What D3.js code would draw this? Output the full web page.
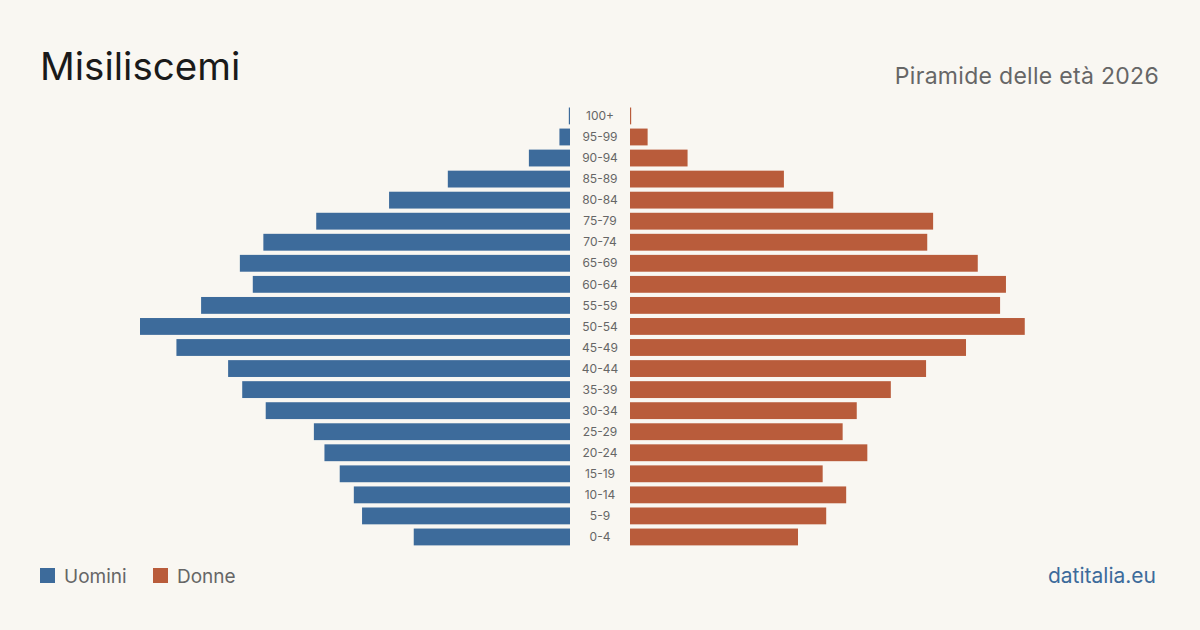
<!DOCTYPE html>
<html lang="it">
<head>
<meta charset="UTF-8">
<script src="https://d3js.org/d3.v7.min.js"></script>
<title>Misiliscemi</title>
<style>
  body { margin: 0; background: #f9f7f2; }
  svg { display: block; font-family: Inter, "Noto Sans", sans-serif; }
</style>
</head>
<body>
<script>
  var ageGroups = ["0-4","5-9","10-14","15-19","20-24","25-29","30-34","35-39","40-44","45-49",
    "50-54","55-59","60-64","65-69","70-74","75-79","80-84","85-89","90-94","95-99","100+"];
  var men = [133,177,184,196,209,218,259,279,291,335,366,314,270,281,261,216,154,104,35,9,1];
  var women = [143,167,184,164,202,181,193,222,252,286,336,315,320,296,253,258,173,131,49,15,1];

  var width = 1200, height = 630;
  var blue = "#3d6b9b", red = "#b95c3b";

  var svg = d3.select("body").append("svg")
    .attr("width", width).attr("height", height);

  svg.append("rect").attr("width", width).attr("height", height).attr("fill", "#f9f7f2");

  var maxVal = d3.max(men.concat(women));
  var x = d3.scaleLinear().domain([0, maxVal]).range([0, 430]);
  var y = d3.scaleBand().domain(ageGroups.slice().reverse()).range([103.3, 549.6]).padding(0.2);

  var rows = ageGroups.map(function (g, i) { return { age: g, m: men[i], f: women[i] }; });

  svg.selectAll("rect.m").data(rows).enter().append("rect")
    .attr("class", "m")
    .attr("x", function (d) { return 570 - Math.max(1, x(d.m)); })
    .attr("y", function (d) { return y(d.age); })
    .attr("width", function (d) { return Math.max(1, x(d.m)); })
    .attr("height", y.bandwidth())
    .attr("fill", blue);

  svg.selectAll("rect.f").data(rows).enter().append("rect")
    .attr("class", "f")
    .attr("x", 630)
    .attr("y", function (d) { return y(d.age); })
    .attr("width", function (d) { return Math.max(1, x(d.f)); })
    .attr("height", y.bandwidth())
    .attr("fill", red);

  svg.selectAll("text.age").data(rows).enter().append("text")
    .attr("class", "age")
    .attr("x", 600)
    .attr("y", function (d) { return y(d.age) + y.bandwidth() / 2; })
    .attr("dy", "0.35em")
    .attr("text-anchor", "middle")
    .attr("font-size", 12)
    .attr("fill", "#666")
    .text(function (d) { return d.age; });

  svg.append("text").attr("x", 40).attr("y", 80)
    .attr("font-size", 38.5).attr("fill", "#1a1a1a").text("Misiliscemi");
  svg.append("text").attr("x", 1159).attr("y", 84).attr("text-anchor", "end")
    .attr("font-size", 23).attr("letter-spacing", 0.3).attr("fill", "#666").text("Piramide delle età 2026");

  var legend = [{ name: "Uomini", color: blue, x: 40 }, { name: "Donne", color: red, x: 153 }];
  var lg = svg.selectAll("g.legend").data(legend).enter().append("g")
    .attr("class", "legend")
    .attr("transform", function (d) { return "translate(" + d.x + ",568)"; });
  lg.append("rect").attr("width", 15).attr("height", 15).attr("fill", function (d) { return d.color; });
  lg.append("text").attr("x", 24).attr("y", 14.5).attr("font-size", 19).attr("fill", "#666")
    .text(function (d) { return d.name; });

  svg.append("text").attr("x", 1156).attr("y", 583).attr("text-anchor", "end")
    .attr("font-size", 21).attr("fill", blue).text("datitalia.eu");
</script>
</body>
</html>
